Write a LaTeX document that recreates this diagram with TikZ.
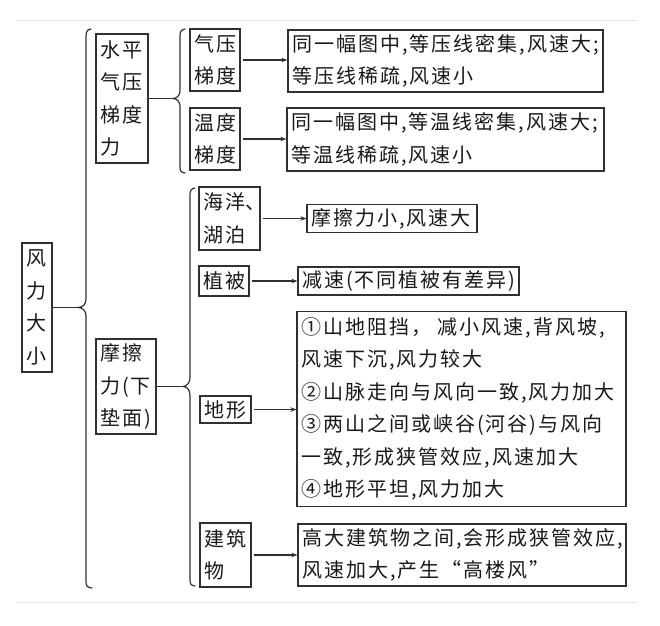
\documentclass[tikz,border=0pt]{standalone}
\usepackage{fontspec}
\setmainfont{Noto Sans CJK SC}[LetterSpace=10]
\usetikzlibrary{arrows.meta}
\definecolor{linec}{HTML}{303030}
\definecolor{sepc}{HTML}{E6E6E6}
\begin{document}
\begin{tikzpicture}[x=1pt,y=-1pt,
  box/.style={draw=linec, line width=1.2pt, inner xsep=4pt, inner ysep=0pt, align=left,
    font=\fontsize{20}{32.5}\selectfont, text=black!90},
  arr/.style={draw=linec, line width=1.1pt, -{Stealth[length=6pt,width=4.5pt]}, shorten <=2pt},
  bracec/.style={draw=linec, line width=1.2pt, line cap=round},
  conn/.style={draw=linec, line width=1.2pt},
  sep/.style={draw=sepc, line width=1pt}]
\fill[white] (0,0) rectangle (660,625);
\useasboundingbox (0,0) rectangle (660,625);
\draw[sep] (16,20) -- (637,20);
\draw[sep] (16,602) -- (637,602);

% nodes
\node[box, text width=22pt, minimum height=129pt] (root) at (37,307.5) {风\\力\\大\\小};
\node[box, text width=44pt, minimum height=129pt] (hp) at (122,98.5) {水平\\气压\\梯度\\力};
\node[box, text width=42pt, minimum height=62pt] (qy) at (215,60) {气压\\梯度};
\node[box, text width=307pt, minimum height=62pt] (d1) at (445.5,61) {同一幅图中,等压线密集,风速大;\\等压线稀疏,风速小};
\node[box, text width=42pt, minimum height=62pt] (wd) at (215,139) {温度\\梯度};
\node[box, text width=309pt, minimum height=63pt] (d2) at (445.5,139.5) {同一幅图中,等温线密集,风速大;\\等温线稀疏,风速小};
\node[box, text width=52pt, minimum height=95pt] (mc) at (126,386.5) {摩擦\\力(下\\垫面)};
\node[box, text width=53pt, minimum height=63pt] (hy) at (229.5,218.5) {海洋\makebox[10pt][l]{、}\\湖泊};
\node[box, text width=162pt, minimum height=28pt] (hyd) at (392,218.5) {摩擦力小,风速大};
\node[box, text width=42pt, minimum height=30pt] (zb) at (224,281) {植被};
\node[box, text width=213pt, minimum height=28pt] (zbd) at (408.5,281) {减速(不同植被有差异)};
\node[box, text width=43pt, minimum height=27pt] (dx) at (225.5,409.5) {地形};
\node[box, text width=321pt, minimum height=195pt] (dxd) at (461.5,409) {①山地阻挡， 减小风速,背风坡,\\风速下沉,风力较大\\②山脉走向与风向一致,风力加大\\③两山之间或峡谷(河谷)与风向\\一致,形成狭管效应,风速加大\\④地形平坦,风力加大};
\node[box, text width=43pt, minimum height=64pt] (jz) at (225.5,555) {建筑\\物};
\node[box, text width=320pt, minimum height=62pt] (jzd) at (462,555) {高大建筑物之间,会形成狭管效应,\\风速加大,产生“高楼风”};

% brace tips
\coordinate (t1) at (78,307.5);
\coordinate (t2) at (173,98.5);
\coordinate (t3) at (183,386.5);

% braces
\draw[bracec] (91,29) .. controls (87,29.5) and (86,32) .. (86,37) -- (86,299)
  .. controls (86,304) and (83,307.5) .. (t1)
  .. controls (83,307.5) and (86,311) .. (86,316) -- (86,581)
  .. controls (86,586) and (87,587.5) .. (92,588);
\draw[bracec] (185,29) .. controls (181,29.5) and (180,32) .. (180,36) -- (180,91)
  .. controls (180,95) and (177,98.5) .. (t2)
  .. controls (177,98.5) and (180,102) .. (180,106) -- (180,167)
  .. controls (180,171) and (181,172.5) .. (185,173);
\draw[bracec] (195,188) .. controls (191,188.5) and (190,191) .. (190,195) -- (190,378)
  .. controls (190,382) and (187,386.5) .. (t3)
  .. controls (187,386.5) and (190,390) .. (190,395) -- (190,580)
  .. controls (190,584) and (191,585.5) .. (195,586);

% connectors
\draw[conn] (root.east) -- (t1);
\draw[conn] (hp.east) -- (t2);
\draw[conn] (mc.east) -- (t3);
\draw[arr] (qy.east) -- (qy.east -| d1.west);
\draw[arr] (wd.east) -- (wd.east -| d2.west);
\draw[arr] (hy.east) -- (hy.east -| hyd.west);
\draw[arr] (zb.east) -- (zb.east -| zbd.west);
\draw[arr] (dx.east) -- (dx.east -| dxd.west);
\draw[arr] (jz.east) -- (jz.east -| jzd.west);
\end{tikzpicture}
\end{document}
